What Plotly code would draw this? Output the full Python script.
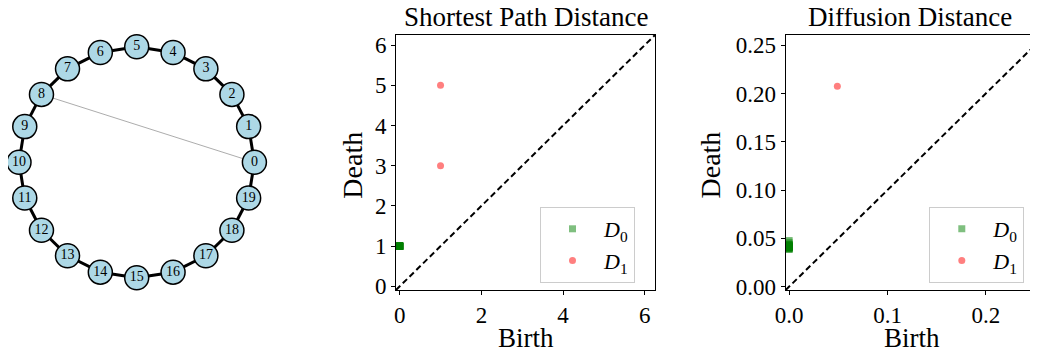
import math
import plotly.graph_objects as go

# --- graph data ---
node_ids = list(range(20))
ring_edges = [(i, (i + 1) % 20) for i in range(20)]
chord_edges = [(8, 0)]

# --- persistence diagrams ---
sp_d0_birth = [0] * 19
sp_d0_death = [1] * 19
sp_d1_birth = [1, 1]
sp_d1_death = [3, 5]

diff_d0_birth = [0.0] * 19
diff_d0_death = [0.0385, 0.0390, 0.0395, 0.0400, 0.0402, 0.0405, 0.0408, 0.0410, 0.0412,
                 0.0415, 0.0418, 0.0420, 0.0422, 0.0425, 0.0430, 0.0435, 0.0440, 0.0460, 0.0478]
diff_d1_birth = [0.049]
diff_d1_death = [0.2075]

FONT = "Liberation Serif"
W, H = 1038, 351
OFF = 8  # page body margin
FW, FH = W - OFF, H - OFF
GREEN = "rgba(0,128,0,0.5)"
RED = "rgba(255,0,0,0.5)"

# circular layout (like networkx.circular_layout)
pos = {n: (math.cos(2 * math.pi * n / len(node_ids)), math.sin(2 * math.pi * n / len(node_ids)))
       for n in node_ids}


def edge_xy(edges):
    xs, ys = [], []
    for a, b in edges:
        xs += [pos[a][0], pos[b][0], None]
        ys += [pos[a][1], pos[b][1], None]
    return xs, ys


# window pixel -> paper coords
def px(x):
    return (x - OFF) / FW


def py(y):
    return (FH - (y - OFF)) / FH


fig = go.Figure()

# --- panel 1: graph ---
cx, cy = edge_xy(chord_edges)
fig.add_trace(go.Scatter(x=cx, y=cy, mode="lines", line=dict(color="#888888", width=0.7),
                         showlegend=False, hoverinfo="skip", xaxis="x", yaxis="y"))
ex, ey = edge_xy(ring_edges)
fig.add_trace(go.Scatter(x=ex, y=ey, mode="lines", line=dict(color="black", width=3),
                         showlegend=False, hoverinfo="skip", xaxis="x", yaxis="y"))
fig.add_trace(go.Scatter(
    x=[pos[n][0] for n in node_ids], y=[pos[n][1] for n in node_ids],
    mode="markers+text", text=[str(n) for n in node_ids], textposition="middle center",
    textfont=dict(family=FONT, size=14, color="black"), cliponaxis=False,
    marker=dict(size=24, color="#add8e6", line=dict(color="black", width=1.5)),
    showlegend=False, xaxis="x", yaxis="y"))


def diagram(xa, ya, legend, d0b, d0d, d1b, d1d, lo, hi):
    fig.add_trace(go.Scatter(x=[lo, hi], y=[lo, hi], mode="lines",
                             line=dict(color="black", width=2, dash="6px,3.5px"),
                             showlegend=False, hoverinfo="skip", xaxis=xa, yaxis=ya))
    fig.add_trace(go.Scatter(x=d0b, y=d0d, mode="markers", name="<i>D</i><sub>0</sub>",
                             marker=dict(symbol="square", size=7, color=GREEN, line=dict(width=0)),
                             legend=legend, xaxis=xa, yaxis=ya))
    fig.add_trace(go.Scatter(x=d1b, y=d1d, mode="markers", name="<i>D</i><sub>1</sub>",
                             marker=dict(symbol="circle", size=7, color=RED, line=dict(width=0)),
                             legend=legend, xaxis=xa, yaxis=ya))


sp_lo, sp_hi = -0.09, 6.25
df_lo, df_hi = -0.0035, 0.2605
diagram("x2", "y2", "legend", sp_d0_birth, sp_d0_death, sp_d1_birth, sp_d1_death, sp_lo, sp_hi)
diagram("x3", "y3", "legend2", diff_d0_birth, diff_d0_death, diff_d1_birth, diff_d1_death, df_lo, df_hi)

tick_font = dict(family=FONT, size=23, color="black")
axis_common = dict(showline=True, linecolor="black", linewidth=1, ticks="outside", ticklen=4,
                   tickwidth=1, tickcolor="black", showgrid=False, zeroline=False, automargin=False,
                   tickfont=tick_font)

ydom = [py(290), py(35)]
legend_common = dict(y=py(207), xanchor="left", yanchor="top",
                     bordercolor="#cccccc", borderwidth=1, bgcolor="rgba(255,255,255,0.8)",
                     font=dict(family=FONT, size=22, color="black"), itemwidth=53)


def label(text, x, y, angle=0, size=27):
    return dict(text=text, x=px(x), y=py(y), xref="paper", yref="paper", xanchor="center",
                yanchor="middle", textangle=angle, showarrow=False,
                font=dict(family=FONT, size=size, color="black"))


fig.update_layout(
    width=FW, height=FH, margin=dict(l=0, r=0, t=0, b=0),
    paper_bgcolor="white", plot_bgcolor="white",
    xaxis=dict(domain=[px(8), px(275)], range=[-(136.7 - 8) / 117.7, (275 - 136.7) / 117.7],
               visible=False, automargin=False),
    yaxis=dict(domain=[py(300), py(30)], range=[-1.192, 1.1455], visible=False, automargin=False),
    xaxis2=dict(domain=[px(396), px(655)], range=[sp_lo, sp_hi], anchor="y2", mirror=True,
                tickvals=[0, 2, 4, 6], **axis_common),
    yaxis2=dict(domain=ydom, range=[sp_lo, sp_hi], anchor="x2", mirror=True,
                tickvals=[0, 1, 2, 3, 4, 5, 6], **axis_common),
    xaxis3=dict(domain=[px(785.7), 1.0], range=[df_lo, 0.253], anchor="y3", mirror=True,
                tickvals=[0, 0.1, 0.2], ticktext=["0.0", "0.1", "0.2"], **axis_common),
    yaxis3=dict(domain=ydom, range=[df_lo, df_hi], anchor="x3", mirror=False,
                tickvals=[0, 0.05, 0.1, 0.15, 0.2, 0.25],
                ticktext=["0.00", "0.05", "0.10", "0.15", "0.20", "0.25"], **axis_common),
    legend=dict(x=px(540), **legend_common),
    legend2=dict(x=px(929.3), **legend_common),
    annotations=[
        label("Shortest Path Distance", 525.5, 17),
        label("Diffusion Distance", 910, 17),
        label("Birth", 525.5, 338),
        label("Birth", 912, 338),
        label("Death", 351.7, 165, angle=-90, size=28),
        label("Death", 709.5, 165, angle=-90, size=28),
    ],
)

fig.write_html("out.html")
